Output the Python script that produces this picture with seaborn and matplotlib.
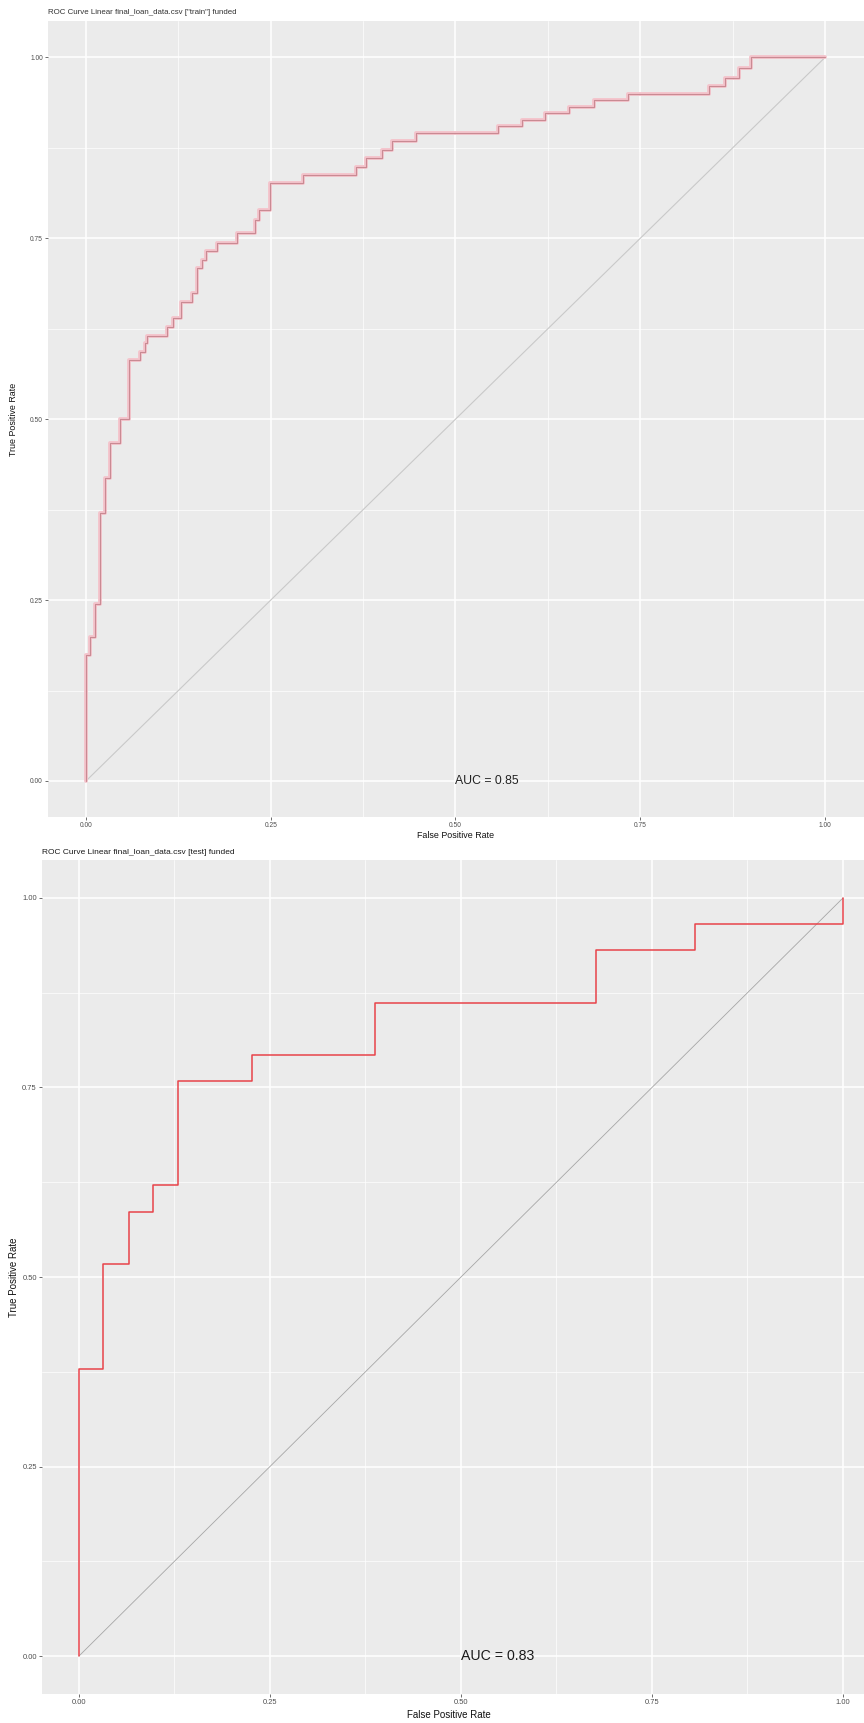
#!/usr/bin/env python
# -*- coding: utf-8 -*-

import numpy as np
import pandas as pd

import matplotlib
matplotlib.use('Agg')
import matplotlib.pyplot as plt
import seaborn as sns

## ============================================================= ##
## ROC vertices (drawn as steps-post)
## ============================================================= ##

train_fpr = [0.000, 0.000, 0.005, 0.012, 0.019, 0.026, 0.033, 0.046, 0.058,
	0.073, 0.080, 0.083, 0.110, 0.118, 0.129, 0.143, 0.150, 0.157, 0.162,
	0.177, 0.204, 0.229, 0.234, 0.249, 0.294, 0.366, 0.379, 0.401, 0.414,
	0.447, 0.557, 0.590, 0.621, 0.654, 0.687, 0.734, 0.843, 0.865, 0.883,
	0.900, 1.000]
train_tpr = [0.000, 0.174, 0.199, 0.245, 0.370, 0.419, 0.467, 0.500, 0.582,
	0.593, 0.605, 0.615, 0.628, 0.640, 0.662, 0.674, 0.709, 0.720, 0.732,
	0.743, 0.757, 0.776, 0.789, 0.826, 0.838, 0.849, 0.861, 0.872, 0.884,
	0.896, 0.905, 0.914, 0.923, 0.932, 0.941, 0.950, 0.961, 0.972, 0.985,
	1.000, 1.000]

test_fpr = [0.000, 0.000, 0.032, 0.065, 0.097, 0.129, 0.226, 0.387, 0.677, 0.806, 1.000]
test_tpr = [0.000, 0.379, 0.517, 0.586, 0.621, 0.759, 0.793, 0.862, 0.931, 0.966, 1.000]

diag = [0.0, 1.0]

auc_train = 0.85
auc_test = 0.83

title_train = 'ROC Curve Linear final_loan_data.csv ["train"] funded'
title_test = 'ROC Curve Linear final_loan_data.csv [test] funded'

major_ticks = [0.0, 0.25, 0.5, 0.75, 1.0]
minor_ticks = [0.125, 0.375, 0.625, 0.875]
tick_labels = ['0.00', '0.25', '0.50', '0.75', '1.00']

## ============================================================= ##

sns.set_theme(style='darkgrid')
plt.rcParams['font.family'] = ['Liberation Sans', 'DejaVu Sans']

W, H = 864., 1723.

def style_axis(ax, xlim, ylim, tick_size, label_size, xlab_y, ylab_x, xlab_x=0.5):
	ax.set_facecolor('#EBEBEB')
	ax.set_xlim(xlim)
	ax.set_ylim(ylim)
	ax.set_xticks(major_ticks)
	ax.set_yticks(major_ticks)
	ax.set_xticklabels(tick_labels)
	ax.set_yticklabels(tick_labels)
	ax.set_xticks(minor_ticks, minor=True)
	ax.set_yticks(minor_ticks, minor=True)
	ax.grid(which='major', color='white', lw=1.1)
	ax.grid(which='minor', color='white', lw=0.5)
	ax.set_axisbelow(True)
	ax.tick_params(which='minor', length=0)
	ax.tick_params(which='major', length=2.2, width=0.5, color='#333333',
		labelsize=tick_size, labelcolor='#4D4D4D', pad=1.5,
		bottom=True, left=True)
	for s in ax.spines.values():
		s.set_visible(False)
	ax.set_xlabel('False Positive Rate', fontsize=label_size, color='#111111', va='center')
	ax.set_ylabel('True Positive Rate', fontsize=label_size, color='#111111', va='center')
	ax.xaxis.set_label_coords(xlab_x, xlab_y)
	ax.yaxis.set_label_coords(ylab_x, 0.5)

fig = plt.figure(figsize=(W / 100., H / 100.), dpi=100)

## ============================================================= ##
## train
## ============================================================= ##

ax1 = fig.add_axes([48 / W, 1 - 817 / H, (W - 48) / W, (817 - 21) / H])
sns.lineplot(x=diag, y=diag, ax=ax1, color='#C9C9C9', lw=0.8, sort=False, estimator=None)
sns.lineplot(x=train_fpr, y=train_tpr, ax=ax1, color='#F4C4CC', lw=2.8,
	sort=False, estimator=None, drawstyle='steps-post')
sns.lineplot(x=train_fpr, y=train_tpr, ax=ax1, color='#C98A93', lw=0.8,
	sort=False, estimator=None, drawstyle='steps-post')
ax1.text(0.5, 0.0, 'AUC = {0:.2f}'.format(auc_train), ha='left', va='center',
	fontsize=8.8, color='#222222')
style_axis(ax1, (-0.0514, 1.0528), (-0.0498, 1.0504), 4.8, 6.4,
	(817 - 836) / (817 - 21.), (14 - 48) / (W - 48))
fig.text(48 / W, 1 - 13 / H, title_train, ha='left', va='center', fontsize=5.7, color='#333333')

## ============================================================= ##
## test
## ============================================================= ##

ax2 = fig.add_axes([42 / W, 1 - 1694 / H, (W - 42) / W, (1694 - 860) / H])
sns.lineplot(x=diag, y=diag, ax=ax2, color='#A6A6A6', lw=0.6, sort=False, estimator=None)
sns.lineplot(x=test_fpr, y=test_tpr, ax=ax2, color='#E8434A', lw=1.1,
	sort=False, estimator=None, drawstyle='steps-post')
ax2.text(0.5, 0.0, 'AUC = {0:.2f}'.format(auc_test), ha='left', va='center',
	fontsize=10.2, color='#1A1A1A')
style_axis(ax2, (-0.0484, 1.0275), (-0.0501, 1.0501), 5.4, 7.0,
	(1694 - 1715) / (1694 - 860.), (14 - 42) / (W - 42), xlab_x=0.495)
fig.text(42 / W, 1 - 852 / H, title_test, ha='left', va='center', fontsize=6.0, color='#1A1A1A')

fig.savefig('out.png', dpi=100)
